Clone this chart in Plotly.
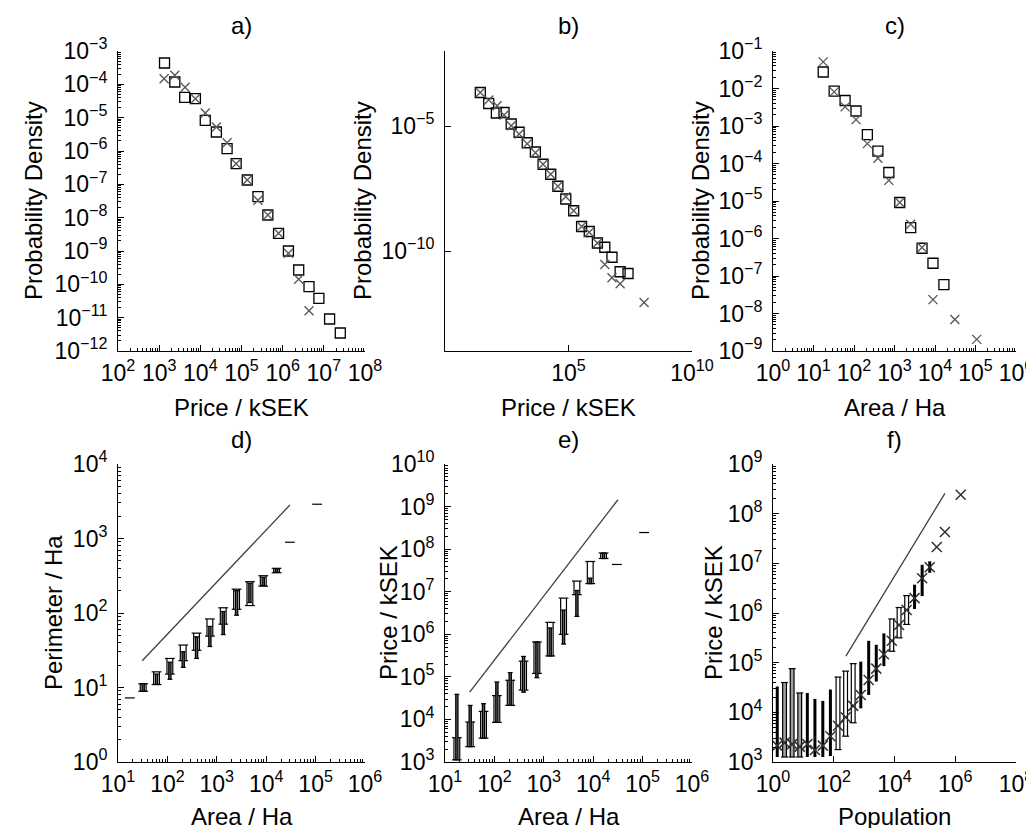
import plotly.graph_objects as go

FONT = "Liberation Sans, Arial, sans-serif"
FS = 23
W, H = 1034, 828

# ---------------- data (log10 values) ----------------
# a) price distribution
a_sq_logx = [3.13, 3.38, 3.62, 3.88, 4.12, 4.39, 4.65, 4.87, 5.14, 5.40, 5.64, 5.90, 6.14, 6.39, 6.64, 6.88, 7.14, 7.40]
a_sq_logy = [-3.36, -3.93, -4.39, -4.43, -5.08, -5.43, -5.93, -6.38, -6.87, -7.37, -7.92, -8.47, -9.00, -9.57, -10.07, -10.42, -11.04, -11.46]
a_x_logx = [3.12, 3.38, 3.63, 3.88, 4.12, 4.39, 4.65, 4.87, 5.14, 5.40, 5.64, 5.90, 6.14, 6.39, 6.64]
a_x_logy = [-3.83, -3.73, -4.09, -4.43, -4.86, -5.28, -5.75, -6.38, -6.87, -7.48, -7.92, -8.47, -9.07, -9.85, -10.79]

# b) price distribution
b_sq_logx = [1.43, 1.77, 2.08, 2.39, 2.68, 3.00, 3.33, 3.66, 3.97, 4.28, 4.57, 4.89, 5.21, 5.53, 5.84, 6.17, 6.47, 6.76, 7.09, 7.41]
b_sq_logy = [-3.66, -4.10, -4.48, -4.46, -4.92, -5.25, -5.67, -6.04, -6.53, -6.93, -7.41, -7.92, -8.39, -9.02, -9.22, -9.68, -9.85, -10.25, -10.83, -10.90]
b_x_logx = [1.43, 1.77, 2.11, 2.39, 2.68, 3.00, 3.33, 3.66, 3.97, 4.28, 4.57, 4.89, 5.21, 5.53, 5.84, 6.17, 6.47, 6.76, 7.09, 8.06]
b_x_logy = [-3.66, -3.96, -4.19, -4.56, -4.99, -5.32, -5.71, -6.07, -6.53, -6.93, -7.41, -7.83, -8.39, -9.02, -9.25, -9.68, -10.54, -11.07, -11.31, -12.06]

# c) area distribution
c_sq_logx = [1.24, 1.51, 1.78, 2.05, 2.33, 2.59, 2.86, 3.13, 3.40, 3.68, 3.95, 4.22]
c_sq_logy = [-1.56, -2.07, -2.32, -2.60, -3.23, -3.67, -4.24, -5.04, -5.71, -6.26, -6.66, -7.23]
c_x_logx = [1.24, 1.51, 1.78, 2.05, 2.33, 2.59, 2.86, 3.13, 3.40, 3.68, 3.95, 4.49, 5.03]
c_x_logy = [-1.29, -2.09, -2.49, -2.83, -3.47, -3.86, -4.45, -5.04, -5.62, -6.24, -7.63, -8.16, -8.69]

# d) perimeter vs area (box groups)
d_box_logx = [1.51, 1.78, 2.05, 2.32, 2.59, 2.86, 3.13, 3.40, 3.67, 3.94, 4.21]
d_wide_lo = [0.95, 1.04, 1.18, 1.36, 1.50, 1.69, 1.85, 2.05, 2.10, 2.36, 2.54]
d_wide_hi = [1.05, 1.21, 1.39, 1.57, 1.73, 1.92, 2.07, 2.32, 2.42, 2.50, 2.60]
d_narrow_lo = [0.95, 1.04, 1.11, 1.27, 1.39, 1.55, 1.71, 1.97, 2.14, 2.37, 2.55]
d_narrow_hi = [1.05, 1.18, 1.34, 1.48, 1.68, 1.82, 2.02, 2.30, 2.40, 2.48, 2.59]
d_dash_logx = [1.24, 4.48, 5.03]
d_dash_logy = [0.86, 2.95, 3.46]
d_fit_logx = [1.49, 4.48]
d_fit_logy = [1.36, 3.45]

# e) price vs area (box groups)
e_box_logx = [1.24, 1.51, 1.78, 2.05, 2.32, 2.59, 2.86, 3.13, 3.40, 3.67, 3.94, 4.21]
e_wide_lo = [3.05, 3.36, 3.56, 3.93, 4.33, 4.69, 5.08, 5.49, 6.00, 6.93, 7.19, 7.78]
e_wide_hi = [3.57, 3.94, 4.19, 4.56, 4.92, 5.37, 5.82, 6.28, 6.85, 7.25, 7.71, 7.91]
e_narrow_lo = [3.05, 3.36, 3.56, 3.93, 4.33, 4.64, 4.98, 5.49, 5.77, 6.42, 7.19, 7.78]
e_narrow_hi = [4.59, 4.33, 4.37, 4.88, 5.10, 5.48, 5.82, 6.15, 6.57, 7.03, 7.32, 7.91]
e_dash_logx = [4.48, 5.03]
e_dash_logy = [7.64, 8.39]
e_fit_logx = [1.50, 4.50]
e_fit_logy = [4.64, 9.16]

# f) price vs population
f_bar_logx = [0.14, 0.38, 0.63, 0.88, 1.13, 1.38, 1.64, 1.89, 2.14, 2.39, 2.64, 2.89, 3.15, 3.40, 3.65, 3.91, 4.15, 4.40, 4.66, 4.91, 5.16]
f_bar_lo = [3.10, 3.10, 3.10, 3.10, 3.10, 3.10, 3.10, 3.12, 3.25, 3.52, 3.79, 4.08, 4.35, 4.62, 4.93, 5.23, 5.50, 5.77, 6.08, 6.34, 6.81]
f_bar_hi = [4.52, 4.60, 4.88, 4.39, 4.39, 4.27, 4.23, 4.46, 4.71, 4.83, 4.98, 5.02, 5.44, 5.36, 5.59, 5.88, 6.11, 6.35, 6.57, 6.97, 7.04]
f_bar_kind = ["k", "g", "g", "g", "k", "k", "k", "k", "w", "w", "w", "k", "k", "k", "k", "w", "w", "w", "k", "k", "k"]
f_x_logx = [0.14, 0.38, 0.63, 0.88, 1.13, 1.38, 1.64, 1.89, 2.14, 2.39, 2.64, 2.89, 3.15, 3.40, 3.65, 3.91, 4.15, 4.40, 4.66, 4.91, 5.16, 5.39, 5.66, 6.18]
f_x_logy = [3.33, 3.39, 3.36, 3.31, 3.36, 3.24, 3.33, 3.52, 3.73, 3.90, 4.13, 4.35, 4.65, 4.88, 5.17, 5.44, 5.76, 6.06, 6.30, 6.70, 6.92, 7.33, 7.63, 8.38]
f_fit_logx = [2.40, 5.66]
f_fit_logy = [5.13, 8.41]

# ---------------- axes ----------------
panel_titles = ["a)", "b)", "c)", "d)", "e)", "f)"]
x_titles = ["Price / kSEK", "Price / kSEK", "Area / Ha", "Area / Ha", "Area / Ha", "Population"]
y_titles = ["Probability Density", "Probability Density", "Probability Density",
            "Perimeter / Ha", "Price / kSEK", "Price / kSEK"]
x_ranges = [[2, 8], [0, 10], [0, 6], [1, 6], [1, 6], [0, 8]]
y_ranges = [[-12, -3], [-14, -2], [-9, -1], [0, 4], [3, 10], [3, 9]]
x_tick_exp = [[2, 3, 4, 5, 6, 7, 8], [5, 10], [0, 1, 2, 3, 4, 5, 6], [1, 2, 3, 4, 5, 6], [1, 2, 3, 4, 5, 6], [0, 2, 4, 6, 8]]
y_tick_exp = [[-3, -4, -5, -6, -7, -8, -9, -10, -11, -12], [-5, -10], [-1, -2, -3, -4, -5, -6, -7, -8, -9],
              [0, 1, 2, 3, 4], [3, 4, 5, 6, 7, 8, 9, 10], [3, 4, 5, 6, 7, 8, 9]]
x_minor = [True, False, True, True, True, False]
y_minor = [True, False, True, True, True, True]
ytitle_px = [25, 354, 692, 45, 380, 705]

col_left = [110, 437, 765]
col_w = [247, 247, 243]
row_top = [43, 456]
row_bot = [343, 754]
xtitle_px = [400, 808]


def pow_text(e):
    s = str(abs(e))
    return "10<sup>" + ("\u2212" if e < 0 else "") + s + "</sup>"


fig = go.Figure()
layout = dict(template="none", width=W, height=H,
              margin=dict(l=0, r=0, t=0, b=0, pad=0, autoexpand=False),
              paper_bgcolor="white", plot_bgcolor="white", showlegend=False,
              font=dict(family=FONT, size=FS, color="black"))
annotations = []
for i in range(6):
    r, c = divmod(i, 3)
    xd = [col_left[c] / W, (col_left[c] + col_w[c]) / W]
    yd = [1 - row_bot[r] / H, 1 - row_top[r] / H]
    sfx = "" if i == 0 else str(i + 1)
    common = dict(type="log", showgrid=False, zeroline=False, showline=True, automargin=False,
                  linecolor="black", linewidth=1, ticks="inside", ticklen=6,
                  tickcolor="black", tickwidth=1, tickmode="array",
                  tickfont=dict(family=FONT, size=FS, color="black"))
    xa = dict(common, domain=xd, anchor="y" + sfx, range=x_ranges[i],
              tickvals=[10.0 ** e for e in x_tick_exp[i]],
              ticktext=[pow_text(e) for e in x_tick_exp[i]], ticklabelstandoff=1)
    ya = dict(common, domain=yd, anchor="x" + sfx, range=y_ranges[i],
              tickvals=[10.0 ** e for e in y_tick_exp[i]],
              ticktext=[pow_text(e) for e in y_tick_exp[i]], ticklabelstandoff=5)
    if x_minor[i]:
        xa["minor"] = dict(ticks="inside", ticklen=3, tickcolor="black", dtick="D1", showgrid=False)
    if y_minor[i]:
        ya["minor"] = dict(ticks="inside", ticklen=3, tickcolor="black", dtick="D1", showgrid=False)
    layout["xaxis" + sfx] = xa
    layout["yaxis" + sfx] = ya
    cx = (col_left[c] + col_w[c] / 2) / W
    annotations.append(dict(text=panel_titles[i], x=cx, y=1 - (row_top[r] - 25) / H, xref="paper", yref="paper",
                            showarrow=False, xanchor="center", yanchor="middle", font=dict(size=24)))
    annotations.append(dict(text=x_titles[i], x=cx, y=1 - xtitle_px[r] / H, xref="paper", yref="paper",
                            showarrow=False, xanchor="center", yanchor="middle", font=dict(size=24)))
    annotations.append(dict(text=y_titles[i], x=ytitle_px[i] / W, y=1 - (row_top[r] + row_bot[r]) / 2 / H,
                            xref="paper", yref="paper", textangle=-90,
                            showarrow=False, xanchor="center", yanchor="middle", font=dict(size=24)))
layout["annotations"] = annotations
fig.update_layout(**layout)


def ax_ids(i):
    sfx = "" if i == 0 else str(i + 1)
    return "x" + sfx, "y" + sfx


def p10(v):
    return [10.0 ** t for t in v]


def markers(i, lx, ly, symbol, color, size, lw):
    xa, ya = ax_ids(i)
    fig.add_trace(go.Scatter(x=p10(lx), y=p10(ly), mode="markers", xaxis=xa, yaxis=ya,
                             marker=dict(symbol=symbol, size=size, color=color,
                                         line=dict(color=color, width=lw)),
                             hoverinfo="skip"))


def line(i, lx, ly, color="#404040", width=1.3):
    xa, ya = ax_ids(i)
    fig.add_trace(go.Scatter(x=p10(lx), y=p10(ly), mode="lines", xaxis=xa, yaxis=ya,
                             line=dict(color=color, width=width), hoverinfo="skip"))


def bars(i, lx, lo, hi, width, fill, edge="black", edge_w=1.2):
    xa, ya = ax_ids(i)
    X, Y, CX, CY = [], [], [], []
    for x, l, h in zip(lx, lo, hi):
        X += [10.0 ** x, 10.0 ** x, None]
        Y += [10.0 ** l, 10.0 ** h, None]
        CX += [10.0 ** x, 10.0 ** x]
        CY += [10.0 ** l, 10.0 ** h]
    fig.add_trace(go.Scatter(x=X, y=Y, mode="lines", xaxis=xa, yaxis=ya,
                             line=dict(color=edge, width=width), hoverinfo="skip"))
    if fill != edge:
        fig.add_trace(go.Scatter(x=X, y=Y, mode="lines", xaxis=xa, yaxis=ya,
                                 line=dict(color=fill, width=width - 2 * edge_w), hoverinfo="skip"))
        fig.add_trace(go.Scatter(x=CX, y=CY, mode="markers", xaxis=xa, yaxis=ya,
                                 marker=dict(symbol="line-ew", size=width, color=edge,
                                             line=dict(color=edge, width=edge_w)),
                                 hoverinfo="skip"))


SQ = dict(symbol="square-open", color="black", size=10, lw=1.3)
CR = dict(symbol="x-thin-open", color="#5a5a5a", size=9, lw=1.4)

# a, b, c
markers(0, a_sq_logx, a_sq_logy, **SQ)
markers(0, a_x_logx, a_x_logy, **CR)
markers(1, b_sq_logx, b_sq_logy, **SQ)
markers(1, b_x_logx, b_x_logy, **CR)
markers(2, c_sq_logx, c_sq_logy, **SQ)
markers(2, c_x_logx, c_x_logy, **CR)

# d
line(3, d_fit_logx, d_fit_logy)
bars(3, d_box_logx, d_wide_lo, d_wide_hi, 7, "white")
bars(3, d_box_logx, d_narrow_lo, d_narrow_hi, 3.5, "#555555")
markers(3, d_dash_logx, d_dash_logy, symbol="line-ew-open", color="black", size=7, lw=1.2)

# e
line(4, e_fit_logx, e_fit_logy)
bars(4, e_box_logx, e_wide_lo, e_wide_hi, 7, "white")
bars(4, e_box_logx, e_narrow_lo, e_narrow_hi, 3.5, "#555555")
markers(4, e_dash_logx, e_dash_logy, symbol="line-ew-open", color="black", size=7, lw=1.2)

# f
line(5, f_fit_logx, f_fit_logy)
for kind, fill, wd in [("k", "black", 3), ("g", "#a0a0a0", 5), ("w", "white", 5)]:
    sel = [j for j, k in enumerate(f_bar_kind) if k == kind]
    bars(5, [f_bar_logx[j] for j in sel], [f_bar_lo[j] for j in sel], [f_bar_hi[j] for j in sel], wd, fill)
markers(5, f_x_logx, f_x_logy, symbol="x-thin-open", color="#303030", size=10, lw=1.5)

fig.write_html("out.html")
